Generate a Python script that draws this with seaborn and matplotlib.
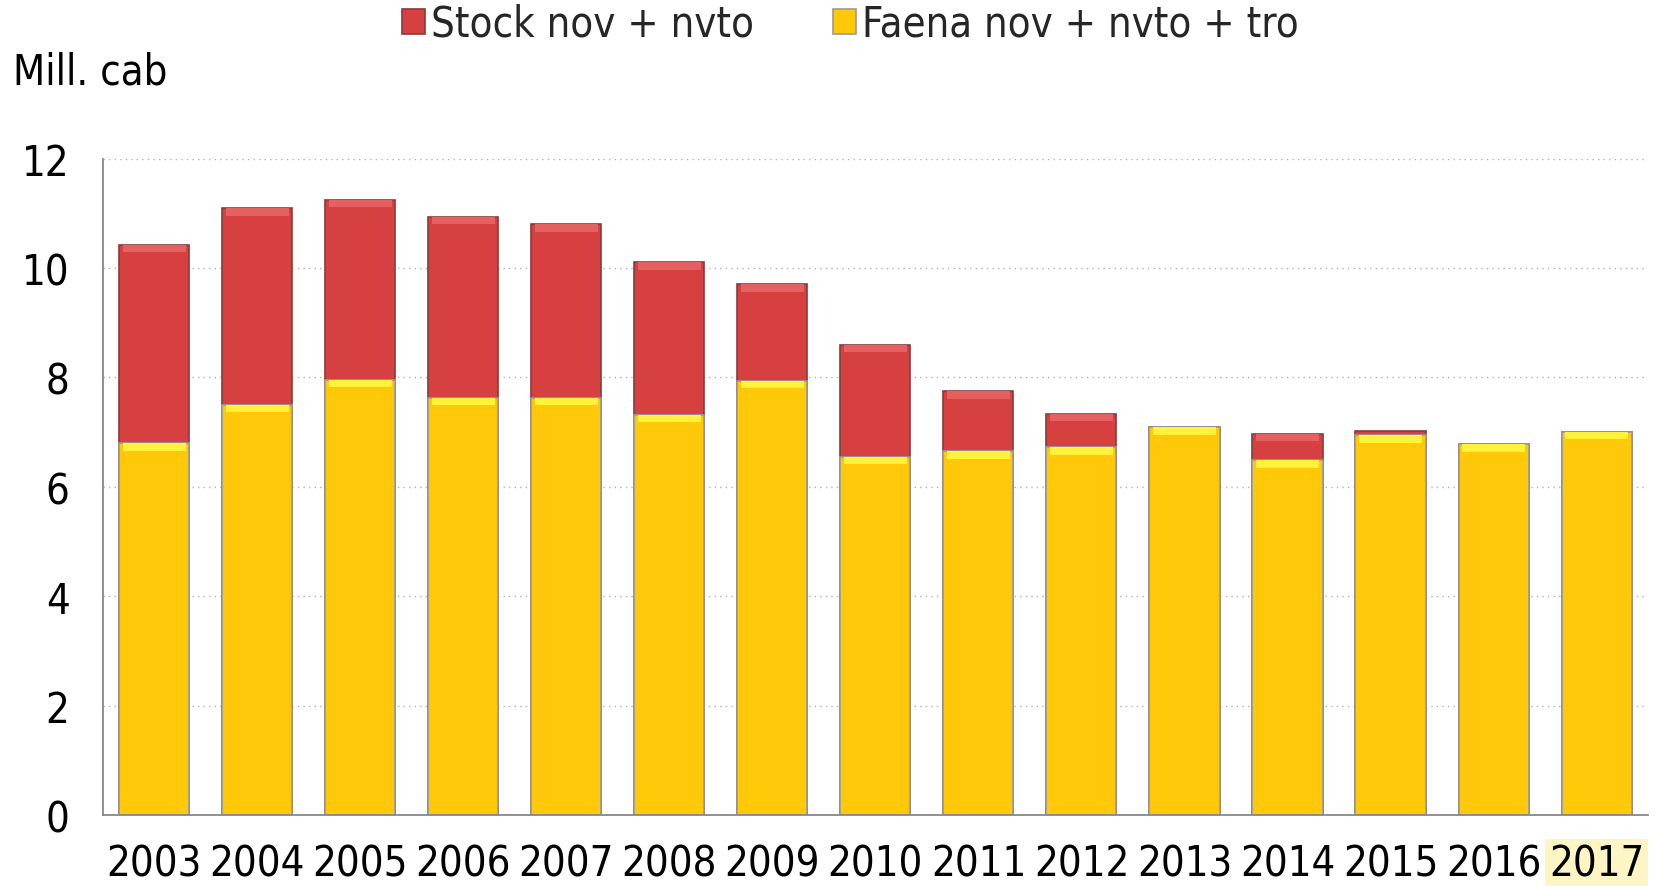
import numpy as np
import pandas as pd
import seaborn as sns
import matplotlib.pyplot as plt
from matplotlib import font_manager

years = ["2003", "2004", "2005", "2006", "2007", "2008", "2009", "2010",
         "2011", "2012", "2013", "2014", "2015", "2016", "2017"]
faena = [6.80, 7.50, 7.96, 7.63, 7.63, 7.32, 7.94, 6.55, 6.65, 6.72, 7.09, 6.49, 6.94, 6.78, 7.01]
stock = [3.63, 3.59, 3.29, 3.31, 3.17, 2.79, 1.76, 2.05, 1.10, 0.62, 0.0, 0.48, 0.08, 0.0, 0.0]

sns.set_style("white")
plt.rcParams["font.family"] = ["DejaVu Sans"]
cond = [f for f in font_manager.fontManager.ttflist
        if f.name == "DejaVu Sans" and "ondensed" in f.fname]
if cond:
    plt.rcParams["font.stretch"] = "condensed"
    fs = 30
else:
    fs = 27

df = pd.DataFrame({"year": years, "faena": faena, "stock": stock})
df["total"] = df["faena"] + df["stock"]

fig = plt.figure(figsize=(16.58, 8.87), dpi=100)
ax = fig.add_axes([0.062, 0.08, 0.932, 0.74])

red = "#d64040"
yellow = "#ffc90a"
w = 0.68
sns.barplot(data=df, x="year", y="total", color=red, width=w, saturation=1,
            edgecolor="#8a3a3a", linewidth=1.2, ax=ax, label="Stock nov + nvto")
sns.barplot(data=df, x="year", y="faena", color=yellow, width=w, saturation=1,
            edgecolor="#9a9a9a", linewidth=1.2, ax=ax, label="Faena nov + nvto + tro")
h, l = ax.get_legend_handles_labels()
if ax.get_legend() is not None:
    ax.get_legend().remove()

# light bevel strips at the top of each segment
x = np.arange(len(years))
hl = 0.14
for i in range(len(years)):
    ax.bar(x[i], hl, bottom=faena[i] - hl, width=w * 0.9, color="#fff23a", linewidth=0, zorder=3)
    if stock[i] > 0.3:
        ax.bar(x[i], hl, bottom=df["total"][i] - hl, width=w * 0.9, color="#e56060", linewidth=0, zorder=3)

ax.set_ylim(0, 12)
ax.set_xlim(-0.5, len(years) - 0.5)
ax.set_yticks(range(0, 13, 2))
ax.yaxis.grid(True, linestyle=(0, (1, 3)), color="#b0b0b0", linewidth=1)
ax.set_axisbelow(True)
ax.set_xlabel("")
ax.set_ylabel("")

ax.set_xticks(np.arange(-0.5, len(years), 1), minor=False)
ax.set_xticklabels([""] * (len(years) + 1))
ax.set_xticks(x, minor=True)
ax.set_xticklabels(years, minor=True)
ax.tick_params(axis="x", which="major", length=12, width=1.3, color="#888888", direction="out")
ax.tick_params(axis="x", which="minor", length=0, pad=20, labelsize=fs)
ax.tick_params(axis="y", length=10, width=1.3, color="#888888", direction="out", labelsize=fs, pad=14)

for s in ["top", "right"]:
    ax.spines[s].set_visible(False)
for s in ["left", "bottom"]:
    ax.spines[s].set_color("#888888")
    ax.spines[s].set_linewidth(1.3)

lab = ax.get_xticklabels(minor=True)[-1]
lab.set_bbox(dict(facecolor="#fdf6c4", edgecolor="none", pad=3))

fig.text(0.008, 0.918, "Mill. cab", fontsize=fs, ha="left", va="center", color="black")
fig.legend(h[:2], l[:2], loc="center", bbox_to_anchor=(0.513, 0.972), ncol=2, frameon=False,
           fontsize=fs, handlelength=0.55, handleheight=0.55, handletextpad=0.15,
           columnspacing=1.9)
for t in ax.get_xticklabels(minor=True) + ax.get_yticklabels():
    t.set_color("black")

fig.savefig("out.png", dpi=100)
